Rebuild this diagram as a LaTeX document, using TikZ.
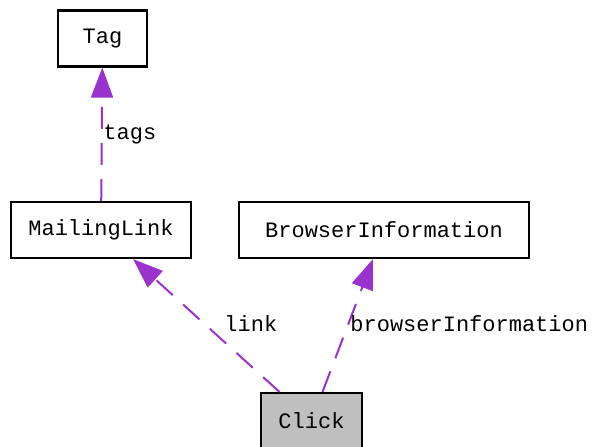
\documentclass[tikz,border=0pt]{standalone}
\usepackage{fontspec}
\setmonofont{Liberation Mono}
\usetikzlibrary{arrows.meta}
\definecolor{edgecol}{HTML}{9A32CD}
\definecolor{selfcol}{HTML}{BFBFBF}

\tikzset{
  cls/.style={draw, line width=1.1pt, minimum height=28pt, inner sep=0pt, font=\ttfamily\fontsize{11}{13}\selectfont},
  uses/.style={edgecol, line width=1pt, dash pattern=on 11pt off 7pt, -{Triangle[length=15pt,width=11pt]}},
  lbl/.style={anchor=west, inner sep=0pt, font=\ttfamily\fontsize{11}{13}\selectfont}
}

\begin{document}
\begin{tikzpicture}[x=0.5pt,y=-0.5pt]
	\useasboundingbox (0,0) rectangle (600,446);
	% classes
	\node[cls, minimum width=44.5pt] (tag) at (102.5,38.5) {Tag};
	\node[cls, minimum width=90pt] (mlink) at (101,230) {MailingLink};
	\node[cls, minimum width=145pt] (binfo) at (384,230) {BrowserInformation};
	\node[cls, minimum width=50.5pt, fill=selfcol] (click) at (311.5,421) {Click};
	% relations
	\draw[uses] (mlink) -- (tag);
	\draw[uses] (click) -- (mlink);
	\draw[uses] (click) -- (binfo);
	% labels
	\node[lbl] (ltags) at (103,134) {tags};
	\node[lbl] (llink) at (224,324) {link};
	\node[lbl] (lbinfo) at (350,324) {browserInformation};
\end{tikzpicture}
\end{document}
